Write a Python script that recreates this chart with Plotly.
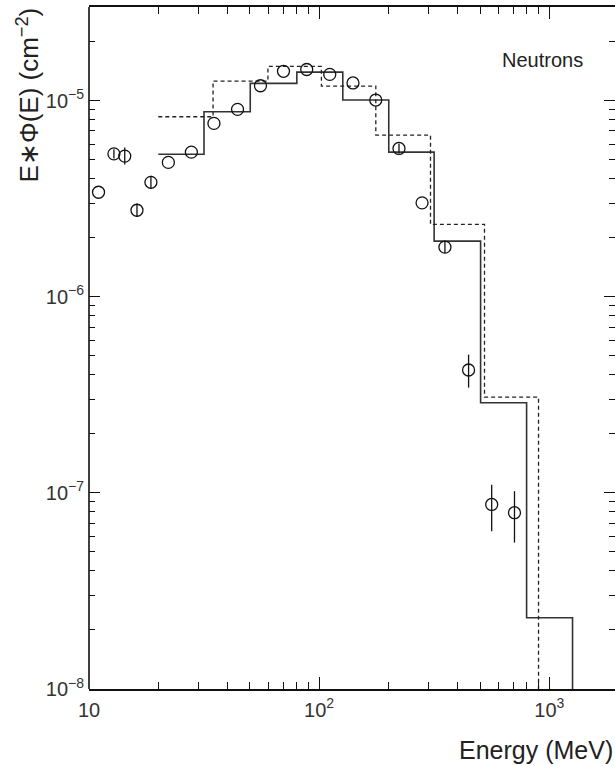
import numpy as np
import plotly.graph_objects as go

# Measured data points
energy = [11.0, 12.83, 14.3, 16.16, 18.58, 22.12, 27.85, 34.9, 44.2, 55.6, 70.0,
          88.3, 111.2, 140.3, 176.2, 222.3, 280.0, 352.0, 446.0, 562.0, 706.0]
flux = [3.41e-6, 5.35e-6, 5.21e-6, 2.76e-6, 3.83e-6, 4.84e-6, 5.46e-6, 7.65e-6,
        9.02e-6, 1.19e-5, 1.41e-5, 1.44e-5, 1.36e-5, 1.23e-5, 1.006e-5, 5.70e-6,
        3.01e-6, 1.79e-6, 4.23e-7, 8.73e-8, 7.92e-8]
err_up = [0, 0.3e-6, 0.55e-6, 0.225e-6, 0.31e-6, 0, 0, 0, 0, 0, 0,
          0, 0, 0, 0, 0.35e-6, 0, 0.13e-6, 0.84e-7, 2.27e-8, 2.28e-8]
err_down = [0, 0.28e-6, 0.49e-6, 0.21e-6, 0.29e-6, 0, 0, 0, 0, 0, 0,
            0, 0, 0, 0, 0.33e-6, 0, 0.12e-6, 0.79e-7, 2.35e-8, 2.34e-8]

# Solid histogram (bin edges and contents)
solid_edges = [20.0, 31.6, 50.2, 80.0, 126.7, 200.7, 316.0, 503.0, 797.0, 1262.0]
solid_vals = [5.33e-6, 8.77e-6, 1.224e-5, 1.397e-5, 1.006e-5, 5.46e-6, 1.92e-6,
              2.88e-7, 2.31e-8]

# Dashed histogram
dash_edges = [20.0, 34.6, 59.9, 102.3, 176.3, 304.7, 523.0, 898.0]
dash_vals = [8.27e-6, 1.258e-5, 1.495e-5, 1.186e-5, 6.67e-6, 2.34e-6, 3.08e-7]

FLOOR = 1e-10


def step_xy(edges, vals):
    xs = list(edges) + [edges[-1]]
    ys = list(vals) + [vals[-1], FLOOR]
    return xs, ys


fig = go.Figure()

sx, sy = step_xy(solid_edges, solid_vals)
fig.add_trace(go.Scatter(x=sx, y=sy, mode="lines", line_shape="hv",
                         line=dict(color="#333333", width=1.6), hoverinfo="skip"))

dx, dy = step_xy(dash_edges, dash_vals)
fig.add_trace(go.Scatter(x=dx, y=dy, mode="lines", line_shape="hv",
                         line=dict(color="#222222", width=1.3, dash="4px,3px"),
                         hoverinfo="skip"))

fig.add_trace(go.Scatter(
    x=energy, y=flux, mode="markers",
    marker=dict(symbol="circle-open", size=12, color="#111111",
                line=dict(width=1.3, color="#111111")),
    error_y=dict(type="data", symmetric=False, array=err_up, arrayminus=err_down,
                 width=0, thickness=1.3, color="#111111"),
    hoverinfo="skip"))

tick_font = dict(family="Liberation Sans, Arial, sans-serif", size=20, color="#333333")

fig.update_xaxes(
    type="log", range=[1, np.log10(1930)],
    tickmode="array", tickvals=[10, 100, 1000],
    ticktext=["10", "10<sup>2</sup>", "10<sup>3</sup>"],
    ticks="inside", ticklen=12, tickwidth=1.3, tickcolor="#111111",
    minor=dict(ticks="inside", ticklen=7, tickwidth=1.1, tickcolor="#111111",
               dtick="D1", showgrid=False),
    showline=True, linecolor="#111111", linewidth=1.6, mirror="ticks",
    showgrid=False, zeroline=False, tickfont=tick_font, ticklabelstandoff=2,
)
fig.update_yaxes(
    type="log", range=[-8, np.log10(3e-5)],
    tickmode="array", tickvals=[1e-8, 1e-7, 1e-6, 1e-5],
    ticktext=["10<sup>−8</sup>", "10<sup>−7</sup>", "10<sup>−6</sup>", "10<sup>−5</sup>"],
    ticks="inside", ticklen=11, tickwidth=1.3, tickcolor="#111111",
    minor=dict(ticks="inside", ticklen=6, tickwidth=1.1, tickcolor="#111111",
               dtick="D1", showgrid=False),
    showline=False, mirror="ticks",
    showgrid=False, zeroline=False, tickfont=tick_font, ticklabelstandoff=4,
)

# left frame line (right frame edge lies just outside the visible page)
fig.add_shape(type="line", xref="paper", yref="paper", x0=0, x1=0, y0=0, y1=1,
              line=dict(color="#111111", width=1.6))

txt_font = dict(family="Liberation Sans, Arial, sans-serif", color="#222222")
fig.add_annotation(text="E∗Φ(E) (cm<sup>−2</sup>)", xref="paper", yref="paper",
                   x=-0.116, y=1.003, xanchor="center", yanchor="top",
                   textangle=-90, showarrow=False, font=dict(size=26, **txt_font))
fig.add_annotation(text="Energy (MeV)", xref="paper", yref="paper",
                   x=1.0, y=-0.09, xanchor="right", yanchor="middle",
                   showarrow=False, font=dict(size=25, **txt_font))
fig.add_annotation(text="Neutrons", xref="paper", yref="paper",
                   x=0.863, y=0.922, xanchor="center", yanchor="middle",
                   showarrow=False, font=dict(size=20, **txt_font))

fig.update_layout(
    width=615, height=766,
    margin=dict(l=89, r=0, t=7, b=77, pad=0),
    paper_bgcolor="white", plot_bgcolor="white",
    showlegend=False,
)

fig.write_html("out.html")
